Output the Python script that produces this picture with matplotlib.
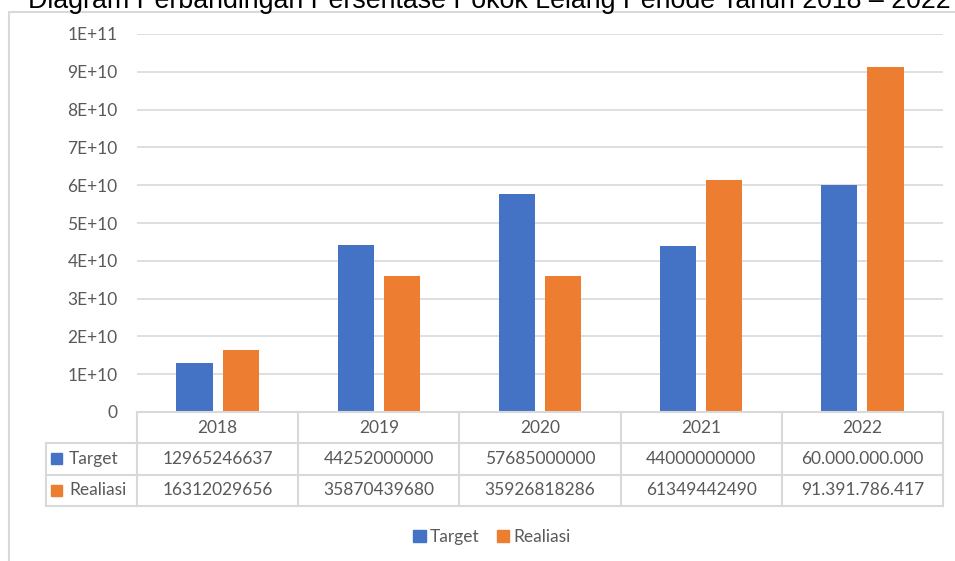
import matplotlib
matplotlib.use("Agg")
import matplotlib.pyplot as plt
import matplotlib.transforms as mtransforms
from matplotlib.patches import Patch, Rectangle
import numpy as np

# data
years = ["2018", "2019", "2020", "2021", "2022"]
target = [12965246637, 44252000000, 57685000000, 44000000000, 60000000000]
realiasi = [16312029656, 35870439680, 35926818286, 61349442490, 91391786417]
# 2022 column is shown with dot thousands separators in the source table
dotted = [False, False, False, False, True]
series_names = ["Target", "Realiasi"]
title = "Diagram Perbandingan Persentase Pokok Lelang Periode Tahun 2018 \u2013 2022"

BLUE = "#4472C4"
ORANGE = "#ED7D31"
TXT = "#595959"
LINE = "#D9D9D9"
FONT = "Lato"
FS = 12.5


def fmt_value(v, dots):
    if dots:
        return f"{v:,}".replace(",", ".")
    return str(v)


def fmt_tick(v, pos):
    if v == 0:
        return "0"
    s = f"{v:.0E}"           # e.g. 9E+10
    mant, exp = s.split("E")
    return f"{mant}E+{int(exp)}"


fig = plt.figure(figsize=(9.55, 5.61), dpi=100)
W, H = 955, 561
ax = fig.add_axes([137 / W, 1 - 412 / H, (943 - 137) / W, (412 - 34) / H])

x = np.arange(len(years))
bw = 0.225
off = 0.143
ax.bar(x - off, target, bw, color=BLUE, zorder=3)
ax.bar(x + off, realiasi, bw, color=ORANGE, zorder=3)

ax.set_xlim(-0.5, len(years) - 0.5)
ax.set_ylim(0, 1e11)
ax.set_yticks(np.arange(0, 1.01e11, 1e10))
ax.yaxis.set_major_formatter(matplotlib.ticker.FuncFormatter(fmt_tick))
ax.tick_params(axis="y", length=0, pad=14, labelsize=FS, labelcolor=TXT)
for lab in ax.get_yticklabels():
    lab.set_fontfamily(FONT)
ax.set_xticks([])
ax.yaxis.grid(True, color=LINE, lw=1.2)
ax.set_axisbelow(True)
for sp in ax.spines.values():
    sp.set_visible(False)

# data table under the plot
trans = mtransforms.blended_transform_factory(ax.transData, ax.transAxes)
rh = 31.3 / 378          # row height in axes fraction
lab_left = -91 / 806     # row label column, axes fraction
kw = dict(color=LINE, lw=1.5, clip_on=False, zorder=4)

# horizontal lines
ax.plot([-0.5, len(years) - 0.5], [0, 0], transform=trans, **kw)
for r in (1, 2, 3):
    ax.plot([lab_left, 1], [-r * rh, -r * rh], transform=ax.transAxes, **kw)
# vertical lines
for b in np.arange(len(years) + 1) - 0.5:
    ax.plot([b, b], [0, -3 * rh], transform=trans, **kw)
ax.plot([lab_left, lab_left], [-rh, -3 * rh], transform=ax.transAxes, **kw)

tkw = dict(ha="center", va="center", fontsize=FS, color=TXT, family=FONT,
           transform=trans, clip_on=False)
for i, yr in enumerate(years):
    ax.text(i, -0.5 * rh, yr, **tkw)
    ax.text(i, -1.5 * rh, fmt_value(target[i], dotted[i]), **tkw)
    ax.text(i, -2.5 * rh, fmt_value(realiasi[i], dotted[i]), **tkw)

for r, (name, col) in enumerate(zip(series_names, [BLUE, ORANGE])):
    yy = -(1.5 + r) * rh
    ax.add_patch(Rectangle((-86 / 806, yy - 5.5 / 378), 11 / 806, 11 / 378,
                           transform=ax.transAxes, color=col, clip_on=False))
    ax.text(-68 / 806, yy, name, ha="left", va="center", fontsize=FS,
            color=TXT, family=FONT, transform=ax.transAxes)

# legend
handles = [Patch(color=BLUE, label=series_names[0]),
           Patch(color=ORANGE, label=series_names[1])]
fig.legend(handles=handles, loc="center", bbox_to_anchor=(492 / W, 1 - 537 / H),
           ncol=2, frameon=False, handlelength=0.7, handleheight=0.7,
           handletextpad=0.25, columnspacing=1.0,
           prop={"family": FONT, "size": FS}, labelcolor=TXT)

# chart area border (extends past the right and bottom edge of the image)
fig.add_artist(Rectangle((8.5 / W, -0.1), 1.5, 1 - 12 / H + 0.1,
                         transform=fig.transFigure, fill=False,
                         edgecolor=LINE, lw=1.5))

# title, clipped at the top in the source
fig.text(489 / W, 1 - 8.5 / H, title, ha="center", va="baseline",
         fontsize=19.3, family="Liberation Sans", color="black")

fig.savefig("out.png", dpi=100)
